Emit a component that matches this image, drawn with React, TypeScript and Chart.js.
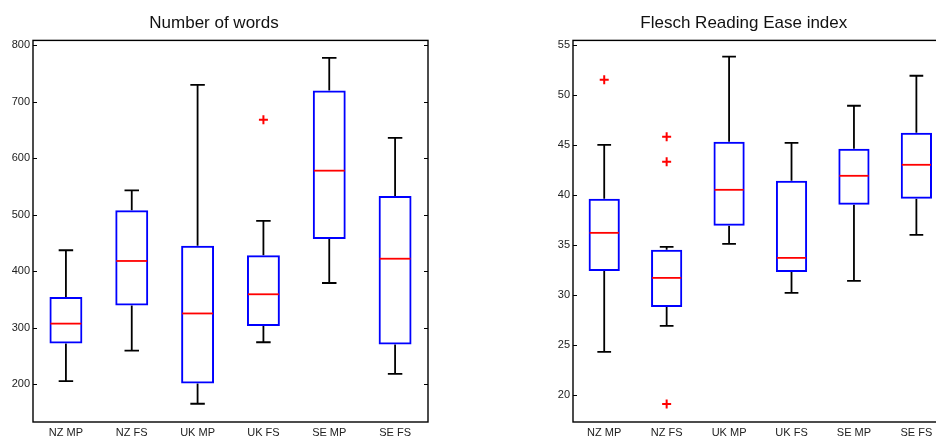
import React, { useEffect, useRef } from "react";
import { Chart, registerables } from "chart.js";

Chart.register(...registerables);

const categories = ["NZ MP", "NZ FS", "UK MP", "UK FS", "SE MP", "SE FS"];

// Number of words
const wordsMin = [205, 259, 165, 274, 379, 218];
const wordsQ1 = [272, 339, 201, 303, 457, 270];
const wordsMed = [307, 418, 325, 359, 578, 422];
const wordsQ3 = [354, 508, 445, 428, 720, 533];
const wordsMax = [437, 543, 730, 489, 778, 636];
const wordsOutCat = ["UK FS"];
const wordsOutVal = [668];
const wordsTicks = [200, 300, 400, 500, 600, 700, 800];

// Flesch Reading Ease index
const fleschMin = [24.3, 26.9, 35.1, 30.2, 31.4, 36.0];
const fleschQ1 = [32.4, 28.8, 36.9, 32.3, 39.0, 39.6];
const fleschMed = [36.2, 31.7, 40.5, 33.7, 41.9, 43.0];
const fleschQ3 = [39.6, 34.5, 45.3, 41.4, 44.6, 46.2];
const fleschMax = [45.0, 34.8, 53.8, 45.2, 48.9, 51.9];
const fleschOutCat = ["NZ MP", "NZ FS", "NZ FS", "NZ FS"];
const fleschOutVal = [51.5, 45.8, 43.3, 19.1];
const fleschTicks = [20, 25, 30, 35, 40, 45, 50, 55];

const FONT = "'Liberation Sans', Arial, Helvetica, sans-serif";

const boxParts = {
  id: "boxParts",
  beforeDatasetsDraw(chart: any, _a: any, opts: any) {
    const { ctx } = chart;
    const xs = chart.scales.x;
    const ys = chart.scales.y;
    const meta = chart.getDatasetMeta(0);
    ctx.save();
    ctx.strokeStyle = "#000";
    ctx.lineWidth = 1.8;
    opts.min.forEach((mn: number, i: number) => {
      const x = xs.getPixelForValue(i);
      const bw = meta.data[i] ? meta.data[i].width : 30;
      const cap = bw * 0.22;
      const yMin = ys.getPixelForValue(mn);
      const yMax = ys.getPixelForValue(opts.max[i]);
      const yQ1 = ys.getPixelForValue(opts.q1[i]);
      const yQ3 = ys.getPixelForValue(opts.q3[i]);
      ctx.beginPath();
      ctx.moveTo(x, yQ3);
      ctx.lineTo(x, yMax);
      ctx.moveTo(x - cap, yMax);
      ctx.lineTo(x + cap, yMax);
      ctx.moveTo(x, yQ1);
      ctx.lineTo(x, yMin);
      ctx.moveTo(x - cap, yMin);
      ctx.lineTo(x + cap, yMin);
      ctx.stroke();
    });
    ctx.restore();
  },
  afterDatasetsDraw(chart: any, _a: any, opts: any) {
    const { ctx } = chart;
    const xs = chart.scales.x;
    const ys = chart.scales.y;
    const meta = chart.getDatasetMeta(0);
    ctx.save();
    ctx.strokeStyle = "#ff0000";
    ctx.lineWidth = 1.8;
    opts.med.forEach((m: number, i: number) => {
      const x = xs.getPixelForValue(i);
      const bw = meta.data[i] ? meta.data[i].width : 30;
      const y = ys.getPixelForValue(m);
      ctx.beginPath();
      ctx.moveTo(x - bw / 2 + 1, y);
      ctx.lineTo(x + bw / 2 - 1, y);
      ctx.stroke();
    });
    ctx.restore();
  },
  afterDraw(chart: any) {
    const { ctx, chartArea: a } = chart;
    const ys = chart.scales.y;
    ctx.save();
    ctx.strokeStyle = "#000";
    ctx.lineWidth = 1.4;
    ctx.strokeRect(a.left, a.top, a.right - a.left, a.bottom - a.top);
    ctx.lineWidth = 1;
    ys.ticks.forEach((t: any) => {
      const y = Math.round(ys.getPixelForValue(t.value)) + 0.5;
      ctx.beginPath();
      ctx.moveTo(a.left, y);
      ctx.lineTo(a.left + 4, y);
      ctx.moveTo(a.right, y);
      ctx.lineTo(a.right - 4, y);
      ctx.stroke();
    });
    ctx.restore();
  },
};

type BoxProps = {
  title: string;
  min: number[];
  q1: number[];
  med: number[];
  q3: number[];
  max: number[];
  outCat: string[];
  outVal: number[];
  ticks: number[];
  yMin: number;
  yMax: number;
  width: number;
  padRight: number;
  left: number;
};

function BoxChart(p: BoxProps) {
  const ref = useRef<HTMLCanvasElement | null>(null);
  useEffect(() => {
    if (!ref.current) return;
    const chart = new Chart(ref.current, {
      type: "bar",
      data: {
        labels: categories,
        datasets: [
          {
            type: "bar",
            data: p.q1.map((v, i) => [v, p.q3[i]]) as any,
            backgroundColor: "rgba(0,0,0,0)",
            borderColor: "#0000ff",
            borderWidth: 2,
            borderSkipped: false,
            categoryPercentage: 1,
            barPercentage: 0.5,
          } as any,
          {
            type: "line",
            data: p.outCat.map((c, i) => ({ x: c, y: p.outVal[i] })) as any,
            showLine: false,
            pointStyle: "cross",
            pointRadius: 4.5,
            pointBorderWidth: 2,
            pointBorderColor: "#ff0000",
            pointBackgroundColor: "#ff0000",
          } as any,
        ],
      },
      options: {
        animation: false,
        responsive: false,
        events: [],
        layout: { padding: { left: 0, right: p.padRight, top: 0, bottom: 0 } },
        plugins: {
          legend: { display: false },
          tooltip: { enabled: false },
          title: {
            display: true,
            text: p.title,
            color: "#111",
            font: { size: 17, family: FONT, weight: "normal" },
            padding: { top: 13, bottom: 7 },
          },
          boxParts: { min: p.min, q1: p.q1, med: p.med, q3: p.q3, max: p.max },
        } as any,
        scales: {
          x: {
            type: "category",
            offset: true,
            grid: { display: false, drawTicks: false },
            border: { display: false },
            ticks: {
              font: { size: 11, family: FONT },
              color: "#222",
              padding: 4,
              maxRotation: 0,
              autoSkip: false,
            },
            afterFit: (s: any) => {
              s.height = 16;
            },
          },
          y: {
            type: "linear",
            min: p.yMin,
            max: p.yMax,
            grid: { display: false, drawTicks: false },
            border: { display: false },
            ticks: {
              font: { size: 11, family: FONT },
              color: "#222",
              padding: 3,
            },
            afterBuildTicks: (s: any) => {
              s.ticks = p.ticks.map((v) => ({ value: v }));
            },
            afterFit: (s: any) => {
              s.width = 33;
            },
          },
        },
      } as any,
      plugins: [boxParts as any],
    });
    return () => chart.destroy();
  }, []);
  return (
    <canvas
      ref={ref}
      width={p.width}
      height={438}
      style={{ position: "absolute", left: p.left, top: 0, width: p.width, height: 438 }}
    />
  );
}

export default function App() {
  return (
    <div
      style={{
        position: "absolute",
        left: 0,
        top: 0,
        width: 936,
        height: 438,
        overflow: "hidden",
        background: "#fff",
      }}
    >
      <BoxChart
        title="Number of words"
        min={wordsMin}
        q1={wordsQ1}
        med={wordsMed}
        q3={wordsQ3}
        max={wordsMax}
        outCat={wordsOutCat}
        outVal={wordsOutVal}
        ticks={wordsTicks}
        yMin={132.7}
        yMax={808.8}
        width={468}
        padRight={40}
        left={0}
      />
      <BoxChart
        title="Flesch Reading Ease index"
        min={fleschMin}
        q1={fleschQ1}
        med={fleschMed}
        q3={fleschQ3}
        max={fleschMax}
        outCat={fleschOutCat}
        outVal={fleschOutVal}
        ticks={fleschTicks}
        yMin={17.3}
        yMax={55.43}
        width={440}
        padRight={32.4}
        left={540}
      />
    </div>
  );
}
